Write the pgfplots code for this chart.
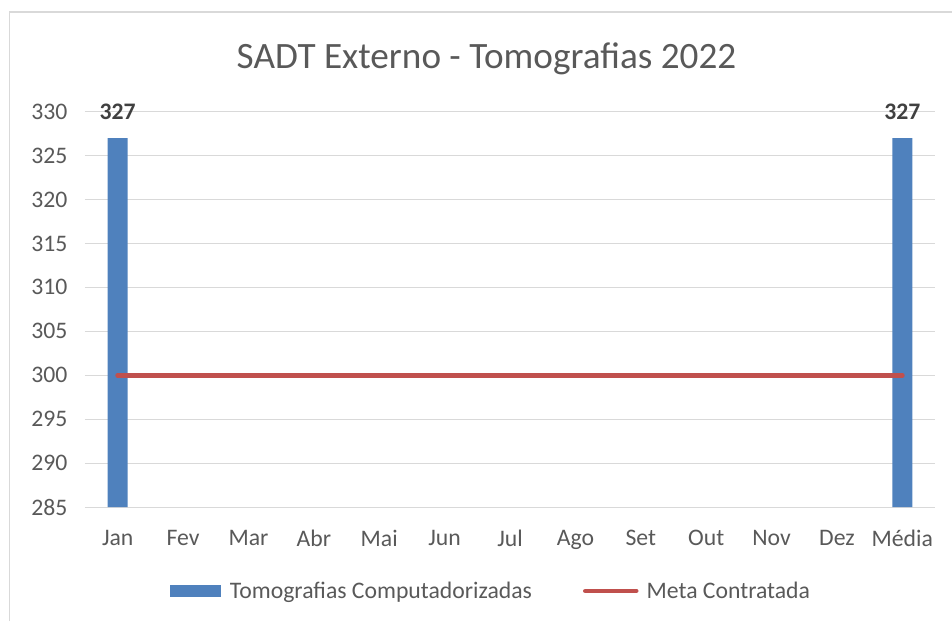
\documentclass[border=0pt]{standalone}
\usepackage{pgfplots}
\pgfplotsset{compat=1.18}
\usepackage{fontspec}
\setmainfont{Carlito}
\definecolor{barblue}{HTML}{4F81BD}
\definecolor{metared}{HTML}{C0504D}
\definecolor{txtgray}{HTML}{595959}
\definecolor{gridgray}{HTML}{D9D9D9}
\definecolor{lblgray}{HTML}{404040}
\newcommand{\tickfont}{\fontsize{23.7}{28}\selectfont}

\begin{document}
\begin{tikzpicture}
\useasboundingbox (0pt,0pt) rectangle (952pt,621pt);
% chart frame (only top and left visible)
\draw[gridgray, line width=1.5pt] (9.5pt,0pt) -- (9.5pt,609pt) -- (952pt,609pt);
\node[txtgray, font=\fontsize{37.2}{42}\selectfont] at (486.5pt,562pt) {SADT Externo - Tomografias 2022};
\begin{axis}[
    at={(85pt,114pt)}, anchor=south west,
    scale only axis,
    width=850pt, height=395.3pt,
    xmin=-0.5, xmax=12.5,
    ymin=285, ymax=330,
    ytick={285,290,...,330},
    xtick={0,...,12},
    xticklabels={Jan,Fev,Mar,Abr,Mai,Jun,Jul,Ago,Set,Out,Nov,Dez,Média},
    axis line style={draw=none},
    tick style={draw=none},
    ymajorgrids,
    grid style={gridgray, line width=1pt},
    tick label style={font=\tickfont, text=txtgray},
    /pgf/number format/assume math mode=true,
    yticklabel style={xshift=-14pt},
    xticklabel style={yshift=-20pt},
    clip mode=individual,
    legend style={
        at={(0.4776,-0.2125)}, anchor=center,
        draw=none, fill=none,
        font=\tickfont, text=txtgray,
        legend columns=2,
        /tikz/every even column/.append style={column sep=49pt},
    },
]
\addplot[ybar, bar width=20pt, fill=barblue, draw=none,
    nodes near coords,
    every node near coord/.append style={font=\tickfont\bfseries, text=lblgray, anchor=south, inner sep=0pt, yshift=18pt},
    legend image code/.code={\fill[barblue] (0pt,-6pt) rectangle (51pt,6pt); \path (58pt,0pt);},
] coordinates {
    (0,327) (12,327)
};
\addlegendentry{Tomografias Computadorizadas}
\addplot[metared, line width=4.8pt, line cap=round, mark=none,
    legend image code/.code={\draw[metared, line width=4.5pt, line cap=round] (2pt,0pt) -- (53pt,0pt); \path (59pt,0pt);},
] coordinates {
    (0,300) (1,300) (2,300) (3,300) (4,300) (5,300) (6,300)
    (7,300) (8,300) (9,300) (10,300) (11,300) (12,300)
};
\addlegendentry{Meta Contratada}
\end{axis}
\end{tikzpicture}
\end{document}
